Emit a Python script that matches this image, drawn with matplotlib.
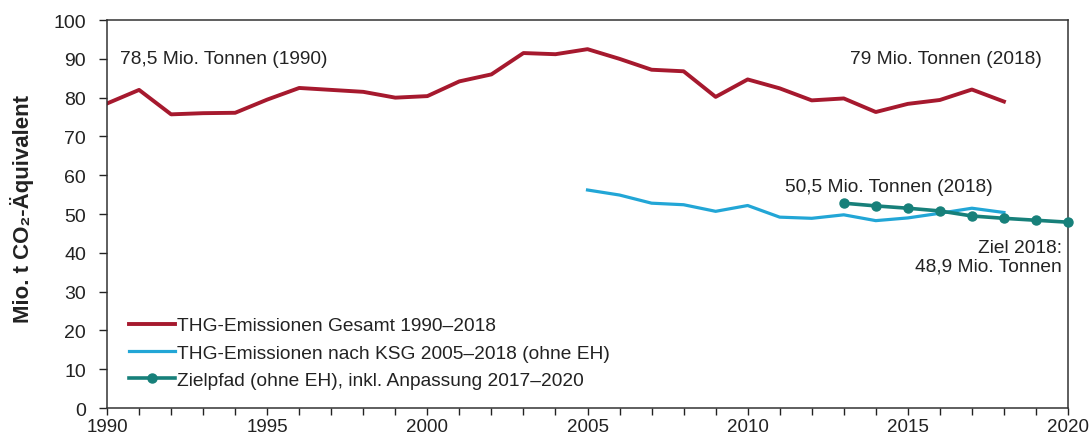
import numpy as np
import matplotlib.pyplot as plt

plt.rcParams['font.family'] = ['Liberation Sans', 'DejaVu Sans']

# THG-Emissionen gesamt
years_total = list(range(1990, 2019))
total = [78.5, 82.0, 75.7, 76.0, 76.1, 79.5, 82.5, 82.0, 81.5, 80.0,
         80.4, 84.2, 86.0, 91.5, 91.2, 92.5, 90.0, 87.2, 86.8, 80.2,
         84.7, 82.4, 79.3, 79.8, 76.3, 78.4, 79.4, 82.1, 79.0]

# THG-Emissionen nach KSG (ohne EH)
years_ksg = list(range(2005, 2019))
ksg = [56.2, 54.9, 52.8, 52.4, 50.7, 52.2, 49.2, 48.9, 49.8, 48.3,
       49.0, 50.2, 51.5, 50.4]

# Zielpfad
years_ziel = list(range(2013, 2021))
ziel = [52.8, 52.1, 51.5, 50.8, 49.5, 48.9, 48.4, 47.9]

labels = ['THG-Emissionen Gesamt 1990\u20132018',
          'THG-Emissionen nach KSG 2005\u20132018 (ohne EH)',
          'Zielpfad (ohne EH), inkl. Anpassung 2017\u20132020']

red = '#A6192E'
blue = '#22A6D6'
green = '#17807A'
txt = '#222222'

fig = plt.figure(figsize=(10.89, 4.39), dpi=100)
ax = fig.add_axes([0.0983, 0.0683, 0.8824, 0.8837])

ax.plot(years_total, total, color=red, lw=2.8, label=labels[0])
ax.plot(years_ksg, ksg, color=blue, lw=2.3, label=labels[1])
ax.plot(years_ziel, ziel, color=green, lw=2.6, marker='o', markersize=6.5,
        label=labels[2], clip_on=False, zorder=3)

ax.set_xlim(1990, 2020)
ax.set_ylim(0, 100)
ax.set_xticks(range(1990, 2021))
ax.set_xticklabels([str(y) if y % 5 == 0 else '' for y in range(1990, 2021)])
ax.set_yticks(range(0, 101, 10))
ax.tick_params(axis='y', labelsize=14, direction='out', length=6, width=1, colors=txt, pad=9)
ax.tick_params(axis='x', labelsize=13.5, direction='out', length=5, width=1, colors=txt, pad=2.5)
for s in ax.spines.values():
    s.set_color('#333333')
    s.set_linewidth(1.1)

fig.text(22 / 1089, 0.525, 'Mio. t CO\u2082-\u00c4quivalent', fontsize=16, fontweight='bold',
         rotation=90, ha='center', va='center', color=txt)

ax.text(1990.4, 90, '78,5 Mio. Tonnen (1990)', fontsize=13.8, va='center', ha='left', color=txt)
ax.text(2019.2, 90, '79 Mio. Tonnen (2018)', fontsize=13.8, va='center', ha='right', color=txt)
ax.text(2014.4, 57.0, '50,5 Mio. Tonnen (2018)', fontsize=13.8, va='center', ha='center', color=txt)
ax.text(2019.8, 39.0, 'Ziel 2018:\n48,9 Mio. Tonnen', fontsize=13.8, va='center', ha='right',
        color=txt, linespacing=1.15, multialignment='right')

ax.legend(loc='lower left', bbox_to_anchor=(0.009, 0.015), frameon=False, fontsize=13.8,
          handlelength=2.4, handletextpad=0.1, labelspacing=0.51, borderaxespad=0.3,
          labelcolor=txt)

fig.savefig('out.png', dpi=100)
